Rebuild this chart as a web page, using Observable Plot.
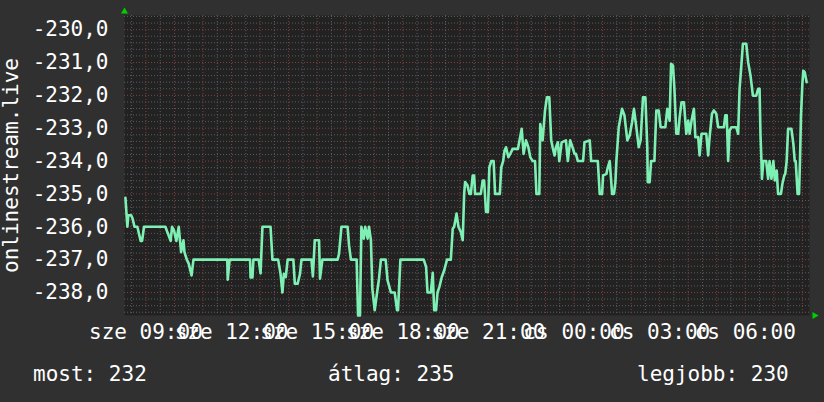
<!DOCTYPE html>
<html><head><meta charset="utf-8">
<script src="https://cdn.jsdelivr.net/npm/d3@7"></script>
<script src="https://cdn.jsdelivr.net/npm/@observablehq/plot@0.6"></script>
<style>
html,body{margin:0;padding:0;background:#303030;}
#wrap{position:relative;width:824px;height:402px;overflow:hidden;background:#303030;}
#wrap svg{display:block;}
.leg{position:absolute;top:361px;font-family:"DejaVu Sans Mono",monospace;font-size:21px;line-height:26px;color:#ffffff;white-space:pre;}
</style></head><body><div id="wrap"></div>
<script>
// minutes after the window start (sze 08:15)
const minutesFromStart = [2,6,8,14,17,21,27,34,37,41,86,90,97,100,104,109,114,119,124,126,131,135,141,145,216,217,221,264,265,269,271,282,286,290,307,311,323,328,332,335,339,343,355,358,364,369,372,393,396,400,409,411,416,448,451,456,469,472,476,488,491,495,498,503,506,511,514,518,521,526,531,535,539,549,553,560,568,573,575,580,629,634,637,644,648,651,655,658,662,667,672,678,686,690,693,698,702,707,711,714,716,721,725,728,732,735,737,749,753,756,760,764,767,771,776,779,789,792,796,799,802,807,811,816,827,835,839,844,849,853,858,863,866,872,874,879,884,888,893,897,900,904,907,911,914,919,928,932,937,943,946,949,953,964,967,978,981,995,999,1004,1006,1013,1016,1020,1023,1025,1029,1032,1034,1039,1046,1051,1057,1062,1067,1071,1076,1081,1085,1090,1095,1099,1100,1104,1107,1114,1118,1123,1127,1137,1141,1146,1149,1153,1156,1160,1164,1167,1171,1176,1181,1185,1188,1192,1197,1200,1206,1209,1213,1223,1227,1230,1235,1239,1244,1248,1260,1263,1266,1269,1272,1276,1286,1290,1293,1297,1300,1307,1311,1316,1321,1328,1332,1335,1337,1339,1340,1343,1349,1353,1356,1360,1364,1367,1371,1374,1380,1383,1387,1389,1392,1395,1402,1406,1409,1411,1415,1418,1420,1422,1425,1427,1430,1434];
const values = [-235.12,-236.0,-235.65,-235.65,-235.75,-236.0,-236.0,-236.43,-236.43,-236.0,-236.0,-236.16,-236.43,-236.0,-236.11,-236.43,-236.0,-236.77,-236.41,-236.77,-237.0,-237.12,-237.48,-237.0,-237.0,-237.61,-237.0,-237.0,-237.54,-237.54,-237.0,-237.0,-237.42,-236.0,-236.0,-237.0,-237.0,-237.43,-238.0,-237.43,-237.53,-237.0,-237.0,-237.73,-237.73,-237.43,-237.0,-237.0,-237.51,-236.41,-236.41,-237.58,-237.0,-237.0,-236.82,-236.0,-236.0,-236.56,-237.0,-237.0,-238.7,-238.7,-236.0,-236.36,-236.0,-236.36,-236.0,-236.41,-237.88,-238.54,-238.0,-237.58,-237.0,-237.0,-237.63,-238.0,-238.0,-238.54,-238.54,-237.0,-237.0,-237.22,-238.0,-238.0,-237.40,-238.54,-238.54,-238.0,-237.83,-237.53,-237.33,-237.0,-237.0,-236.06,-236.0,-235.60,-236.0,-236.16,-236.41,-235.0,-234.64,-234.74,-235.0,-235.0,-234.44,-234.44,-235.0,-235.0,-234.59,-234.59,-235.55,-235.55,-234.19,-234.0,-234.0,-235.0,-235.0,-234.19,-234.0,-233.68,-233.58,-233.88,-233.78,-233.63,-233.63,-233.02,-233.78,-233.37,-233.58,-233.88,-234.0,-234.0,-235.0,-235.0,-232.87,-233.37,-232.46,-232.06,-232.06,-233.37,-233.58,-233.83,-233.58,-233.43,-234.0,-233.43,-233.37,-234.0,-233.37,-233.63,-233.78,-233.78,-234.0,-234.0,-233.43,-233.37,-234.0,-234.0,-235.0,-235.0,-234.44,-234.39,-234.19,-234.0,-234.59,-235.0,-235.0,-234.64,-234.0,-232.97,-232.41,-232.61,-233.37,-233.22,-232.82,-232.41,-232.97,-233.58,-233.37,-232.06,-232.06,-233.58,-234.64,-234.64,-234.0,-234.0,-232.46,-232.46,-232.97,-232.97,-232.41,-232.77,-231.04,-231.09,-231.80,-233.17,-233.17,-232.67,-232.21,-232.21,-233.17,-232.77,-233.17,-232.77,-232.41,-233.27,-233.27,-233.83,-233.17,-233.17,-233.83,-233.27,-232.56,-232.46,-232.56,-232.97,-232.97,-232.61,-232.61,-234.0,-233.07,-232.97,-232.97,-233.17,-231.80,-231.04,-230.43,-230.43,-230.99,-231.40,-232.01,-232.01,-231.80,-231.80,-233.22,-234.0,-234.54,-234.0,-234.0,-234.54,-234.0,-234.54,-234.0,-234.59,-234.29,-235.0,-235.0,-234.69,-234.44,-234.39,-234.0,-233.02,-233.02,-233.47,-234.0,-234.0,-235.0,-235.0,-234.0,-232.67,-231.65,-231.25,-231.30,-231.60];

const yTicks = [-238, -237, -236, -235, -234, -233, -232, -231, -230];
const yTickLabels = ["-238,0", "-237,0", "-236,0", "-235,0", "-234,0", "-233,0", "-232,0", "-231,0", "-230,0"];
const xTickHours = [9, 12, 15, 18, 21, 24, 27, 30]; // hours after sze 00:00
const xTickLabels = ["sze 09:00", "sze 12:00", "sze 15:00", "sze 18:00", "sze 21:00", "cs 00:00", "cs 03:00", "cs 06:00"];
const yLabel = "onlinestream.live";
const legendLabels = ["most", "átlag", "legjobb"];
const legendValues = [232, 235, 230];

const HOUR = 3600000, MIN = 60000;
const day0 = new Date(2024, 0, 3, 0, 0);           // szerda
const start = new Date(+day0 + 8 * HOUR + 15 * MIN);
const end = new Date(+start + 24 * HOUR);

const data = minutesFromStart.map((m, i) => ({t: new Date(+start + m * MIN), v: values[i]}));
const xTicks = xTickHours.map(h => new Date(+day0 + h * HOUR));
const xLabelMap = new Map(xTicks.map((d, i) => [+d, xTickLabels[i]]));
const yLabelMap = new Map(yTicks.map((d, i) => [d, yTickLabels[i]]));

const minorY = d3.range(-1193, -1147).map(k => k / 5).filter(v => Math.abs(v - Math.round(v)) > 1e-6);
const minorX = d3.range(0, 48).map(k => new Date(+start + 15 * MIN + k * 30 * MIN)).filter(d => d.getMinutes() === 30);
const majorX = d3.range(0, 24).map(k => new Date(+day0 + (9 + k) * HOUR));

const font = "DejaVu Sans Mono";
const plot = Plot.plot({
  width: 824,
  height: 345,
  marginLeft: 124,
  marginRight: 15,
  marginTop: 15,
  marginBottom: 30,
  style: {background: "transparent", color: "#ffffff", fontFamily: font, fontSize: "21px"},
  x: {type: "time", domain: [start, end]},
  y: {domain: [-238.7, -229.57]},
  marks: [
    Plot.frame({fill: "#222222", stroke: null}),
    Plot.ruleY(minorY, {stroke: "#5c5c5c", strokeDasharray: "1 2", strokeWidth: 1}),
    Plot.ruleX(minorX, {stroke: "#5c5c5c", strokeDasharray: "1 2", strokeWidth: 1}),
    Plot.ruleY(yTicks, {stroke: "#824040", strokeDasharray: "1 2", strokeWidth: 1}),
    Plot.ruleX(majorX, {stroke: "#824040", strokeDasharray: "1 2", strokeWidth: 1}),
    Plot.line(data, {x: "t", y: "v", stroke: "#7ff0b4", strokeWidth: 2.6, strokeLinejoin: "round"}),
    Plot.axisY({ticks: yTicks, tickFormat: d => yLabelMap.get(d), tickSize: 0, tickPadding: 16,
      label: yLabel, labelAnchor: "center", labelArrow: "none", labelOffset: 121, fontSize: 21}),
    Plot.axisX({ticks: xTicks, tickFormat: d => xLabelMap.get(+d), tickSize: 0, tickPadding: 9, label: null, fontSize: 21}),
    Plot.dot([0], {frameAnchor: "top-left", symbol: "triangle", r: 2.6, fill: "#00d000", stroke: null, dy: -4}),
    Plot.dot([0], {frameAnchor: "bottom-right", symbol: "triangle", r: 2.6, rotate: 90, fill: "#00d000", stroke: null, dx: 5})
  ]
});
const wrap = document.getElementById("wrap");
wrap.appendChild(plot);
const legLeft = [33, 328, 637];
legendLabels.forEach((l, i) => {
  const d = document.createElement("div");
  d.className = "leg";
  d.style.left = legLeft[i] + "px";
  d.textContent = l + ": " + legendValues[i];
  wrap.appendChild(d);
});
</script>
</body></html>
